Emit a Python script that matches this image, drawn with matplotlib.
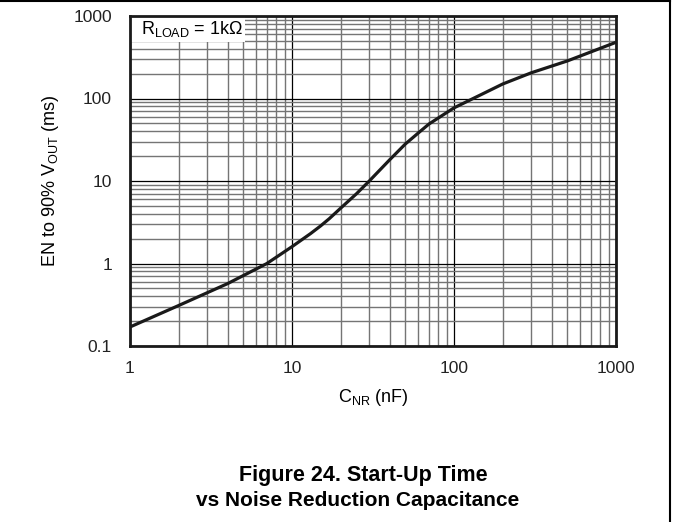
import matplotlib
matplotlib.use("Agg")
import matplotlib.pyplot as plt
from matplotlib.lines import Line2D
from matplotlib.patches import Rectangle
from matplotlib.ticker import LogLocator, FixedLocator, NullFormatter

plt.rcParams['font.family'] = ['Liberation Sans', 'DejaVu Sans']
plt.rcParams['mathtext.fontset'] = 'custom'
plt.rcParams['mathtext.rm'] = 'Liberation Sans'
plt.rcParams['mathtext.it'] = 'Liberation Sans'

# start-up time curve
c_nr = [1, 2, 4, 7, 10, 13, 15, 17, 20, 25, 30, 40, 50, 60, 70, 100, 145, 200, 300, 500, 1000]
t_start = [0.17, 0.31, 0.57, 1.0, 1.6, 2.3, 2.85, 3.5, 4.7, 7.0, 10.0, 18, 28, 38, 49, 77, 110, 150, 205, 285, 480]

x_ticks = [1, 10, 100, 1000]
x_labels = ['1', '10', '100', '1000']
y_ticks = [0.1, 1, 10, 100, 1000]
y_labels = ['0.1', '1', '10', '100', '1000']

W, H = 673, 522
fig = plt.figure(figsize=(W / 100, H / 100), dpi=100)
ax = fig.add_axes([130 / W, (H - 346) / H, 486 / W, 330 / H])

ax.set_xscale('log')
ax.set_yscale('log')
ax.set_xlim(1, 1000)
ax.set_ylim(0.1, 1000)

ax.xaxis.set_major_locator(FixedLocator(x_ticks))
ax.yaxis.set_major_locator(FixedLocator(y_ticks))
ax.set_xticklabels(x_labels)
ax.set_yticklabels(y_labels)
ax.xaxis.set_minor_locator(LogLocator(base=10, subs=range(2, 10)))
ax.yaxis.set_minor_locator(LogLocator(base=10, subs=range(2, 10)))
ax.xaxis.set_minor_formatter(NullFormatter())
ax.yaxis.set_minor_formatter(NullFormatter())
ax.tick_params(which='both', length=0, labelsize=12.5, colors='#222222')
ax.tick_params(axis='x', pad=11)
ax.tick_params(axis='y', pad=13)

ax.grid(which='major', color='black', lw=0.9)
ax.grid(which='minor', color='#757575', lw=1.0)
ax.set_axisbelow(True)
for s in ax.spines.values():
    s.set_linewidth(2.0)
    s.set_color('#1a1a1a')

ax.plot(c_nr, t_start, color='#1a1a1a', lw=2.3, solid_capstyle='butt', zorder=3)

# white label box sitting over the grid, under the frame
ax.add_patch(Rectangle((0, 0.921), 0.237, 0.079, transform=ax.transAxes,
                       fc='white', ec='none', zorder=1.5))
ax.text(11 / 486, 0.96, r'R$_{\mathrm{LOAD}}$ = 1k$\Omega$', transform=ax.transAxes,
        fontsize=13, ha='left', va='center', zorder=4)

ax.set_xlabel(r'C$_{\mathrm{NR}}$ (nF)', fontsize=13, labelpad=8)
ax.set_ylabel(r'EN to 90% V$_{\mathrm{OUT}}$ (ms)', fontsize=13, labelpad=9)

fig.text(363 / W, 1 - 475 / H, 'Figure 24. Start-Up Time', fontsize=15.5,
         fontweight='bold', ha='center', va='center')
fig.text(358 / W, 1 - 500 / H, 'vs Noise Reduction Capacitance', fontsize=15,
         fontweight='bold', ha='center', va='center')

# page frame: top rule and right rule
fig.add_artist(Line2D([0, 670 / W], [1 - 1 / H, 1 - 1 / H], color='black', lw=1.5,
                      transform=fig.transFigure))
fig.add_artist(Line2D([670 / W, 670 / W], [0, 1 - 1 / H], color='black', lw=1.5,
                      transform=fig.transFigure))

fig.savefig('out.png', dpi=100)
